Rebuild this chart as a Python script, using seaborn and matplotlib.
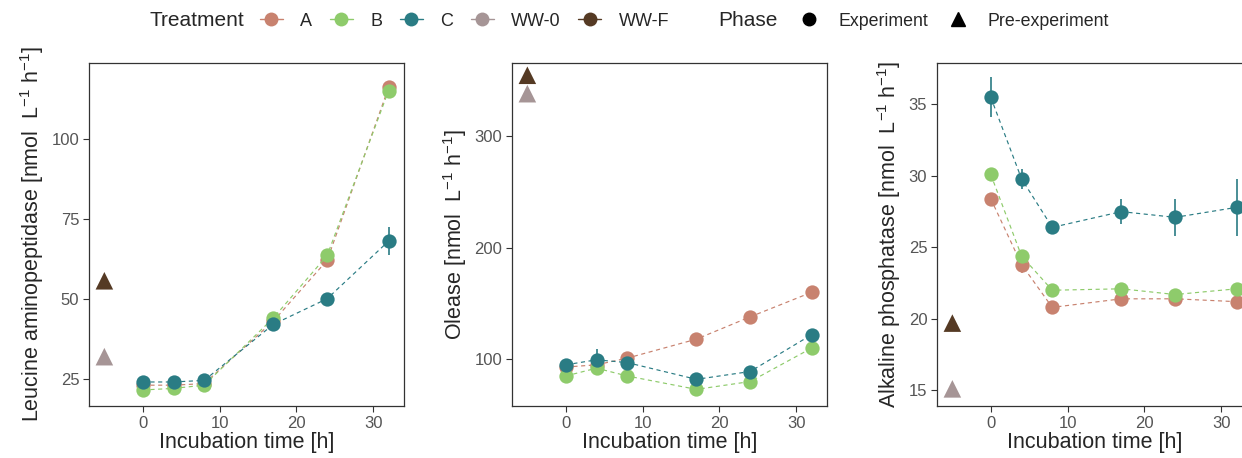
import pandas as pd
import numpy as np
import matplotlib
matplotlib.use("Agg")
import matplotlib.pyplot as plt
from matplotlib.lines import Line2D
import seaborn as sns

# ---- data ----
time = [0, 4, 8, 17, 24, 32]
pre_time = -5

treatments = ["A", "B", "C"]
colors = {"A": "#C8826F", "B": "#8ECB6B", "C": "#2A7C84",
          "WW-0": "#A69596", "WW-F": "#553A24"}

# Leucine aminopeptidase
leu_A = [23.0, 23.0, 23.5, 43.0, 62.0, 116.0]
leu_B = [21.5, 22.0, 23.0, 44.0, 63.5, 115.0]
leu_C = [24.0, 24.0, 24.5, 42.0, 50.0, 68.0]
leu_A_err = [0.5, 0.5, 0.5, 1.0, 1.5, 1.5]
leu_B_err = [0.5, 0.5, 0.5, 1.0, 1.0, 1.5]
leu_C_err = [0.8, 0.8, 0.8, 1.5, 1.5, 4.5]
leu_pre = [31.9, 55.6]   # WW-0, WW-F

# Olease
ole_A = [93.0, 95.0, 101.0, 118.0, 138.0, 160.0]
ole_B = [85.0, 92.0, 85.0, 73.0, 80.0, 110.0]
ole_C = [95.0, 99.5, 97.0, 82.0, 89.0, 122.0]
ole_A_err = [2.0, 2.0, 2.0, 2.0, 2.0, 2.0]
ole_B_err = [2.0, 5.0, 2.0, 2.0, 2.0, 2.0]
ole_C_err = [3.0, 10.0, 3.0, 2.0, 3.0, 3.0]
ole_pre = [338.0, 354.5]

# Alkaline phosphatase
alp_A = [28.4, 23.8, 20.8, 21.4, 21.4, 21.2]
alp_B = [30.1, 24.4, 22.0, 22.1, 21.7, 22.1]
alp_C = [35.5, 29.8, 26.4, 27.5, 27.1, 27.8]
alp_A_err = [0.4, 0.6, 0.4, 0.4, 0.4, 0.5]
alp_B_err = [0.3, 0.4, 0.3, 0.3, 0.3, 0.3]
alp_C_err = [1.4, 0.7, 0.3, 0.9, 1.3, 2.0]
alp_pre = [15.1, 19.7]

pre_groups = ["WW-0", "WW-F"]

panels = [
    ("Leucine aminopeptidase", [leu_A, leu_B, leu_C], [leu_A_err, leu_B_err, leu_C_err], leu_pre,
     (16.5, 123.6), [25, 50, 75, 100]),
    ("Olease", [ole_A, ole_B, ole_C], [ole_A_err, ole_B_err, ole_C_err], ole_pre,
     (58.1, 365.5), [100, 200, 300]),
    ("Alkaline phosphatase", [alp_A, alp_B, alp_C], [alp_A_err, alp_B_err, alp_C_err], alp_pre,
     (13.9, 37.9), [15, 20, 25, 30, 35]),
]

sns.set_theme(style="white")
plt.rcParams['font.family'] = ['Liberation Sans', 'DejaVu Sans']
plt.rcParams['mathtext.fontset'] = 'custom'
plt.rcParams['mathtext.rm'] = 'Liberation Sans'
plt.rcParams['mathtext.it'] = 'Liberation Sans'

fig = plt.figure(figsize=(12.42, 4.58), dpi=100)
lefts = [89, 512, 937]
W, H = 1242, 458

for (name, series, errs, pre, ylim, yticks), lx in zip(panels, lefts):
    ax = fig.add_axes([lx / W, (458 - 406) / H, 315 / W, 343 / H])
    rows = []
    for t, vals, ee in zip(treatments, series, errs):
        for x, v, e in zip(time, vals, ee):
            rows.append({"time": x, "value": v, "err": e, "Treatment": t})
    df = pd.DataFrame(rows)
    for t in treatments:
        sub = df[df["Treatment"] == t]
        ax.errorbar(sub["time"], sub["value"], yerr=sub["err"], fmt="none",
                    ecolor=colors[t], elinewidth=1.2, capsize=0, zorder=2)
        sns.lineplot(data=sub, x="time", y="value", color=colors[t], ax=ax,
                     linestyle=(0, (3.5, 3)), linewidth=0.85, marker="o",
                     markersize=10.3, markeredgewidth=0, legend=False,
                     errorbar=None, zorder=3)
    pre_df = pd.DataFrame({"time": [pre_time] * 2, "value": pre, "Treatment": pre_groups})
    sns.scatterplot(data=pre_df, x="time", y="value", hue="Treatment",
                    palette=colors, marker="^", s=160, linewidth=0,
                    legend=False, ax=ax, zorder=3)
    ax.set_xlim(-7, 34)
    ax.set_ylim(*ylim)
    ax.set_xticks([0, 10, 20, 30])
    ax.set_yticks(yticks)
    ax.tick_params(axis="both", length=4, width=0.8, color="#333333",
                   labelsize=12, labelcolor="#555555", direction="out",
                   bottom=True, left=True, pad=3)
    for sp in ax.spines.values():
        sp.set_color("#333333")
        sp.set_linewidth(0.9)
    ax.set_xlabel("Incubation time [h]", fontsize=15.5, labelpad=1)
    ax.set_ylabel(name + r" [nmol  L$^{-1}$ h$^{-1}$]", fontsize=15.5, labelpad=4)

# ---- legend along the top ----
fig.text(150 / W, 1 - 21 / H, "Treatment", fontsize=15, va="center", ha="left")
t_handles = [Line2D([], [], color=colors[k], marker="o", markersize=10,
                    markeredgewidth=0, linewidth=1.0)
             for k in ["A", "B", "C", "WW-0", "WW-F"]]
fig.legend(t_handles, ["A", "B", "C", "WW-0", "WW-F"], ncol=5, frameon=False,
           loc="center left", bbox_to_anchor=(260 / W, 1 - 21 / H),
           fontsize=13, handlelength=1.27, handletextpad=0.97,
           columnspacing=0.97, borderaxespad=0, borderpad=0)
fig.text(718 / W, 1 - 21 / H, "Phase", fontsize=15, va="center", ha="left")
p_handles = [Line2D([], [], color="black", marker="o", markersize=9, linestyle="none"),
             Line2D([], [], color="black", marker="^", markersize=10, linestyle="none")]
fig.legend(p_handles, ["Experiment", "Pre-experiment"], ncol=2, frameon=False,
           loc="center left", bbox_to_anchor=(798 / W, 1 - 21 / H),
           fontsize=12.8, handlelength=1.2, handletextpad=1.05,
           columnspacing=1.1, borderaxespad=0, borderpad=0)

fig.savefig("out.png", dpi=100)
